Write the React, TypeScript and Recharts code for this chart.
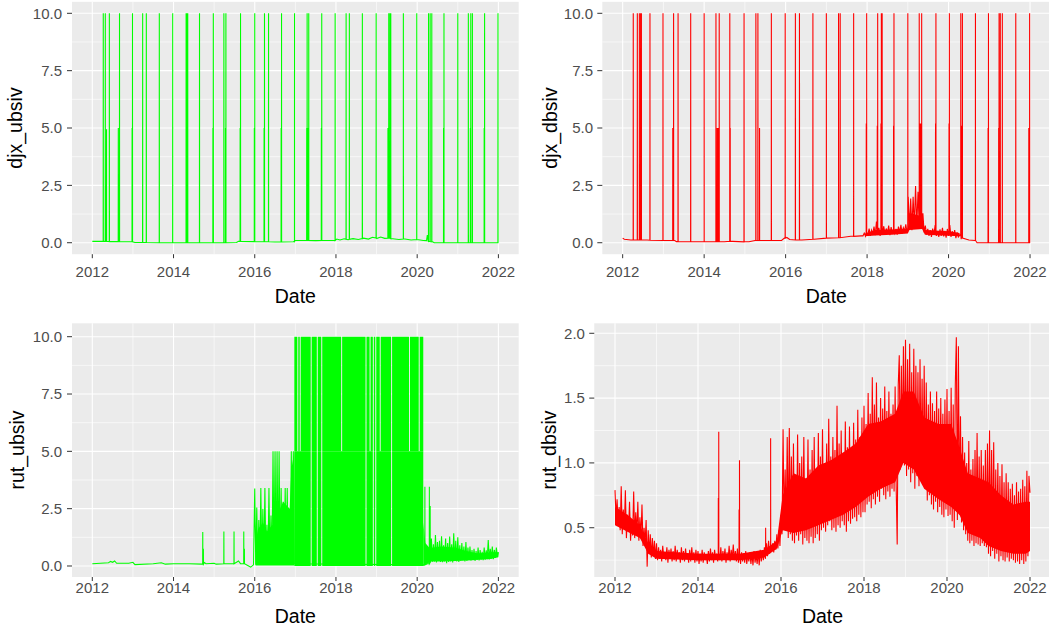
import {
  ComposedChart,
  Line,
  Area,
  XAxis,
  YAxis,
  CartesianGrid,
} from "recharts";

const FONT = "'Liberation Sans', Arial, Helvetica, sans-serif";
const GREEN = "#00FF00";
const RED = "#FF0000";

// axes
const yearTicks = [2012, 2014, 2016, 2018, 2020, 2022];
const yearMinor = [2013, 2015, 2017, 2019, 2021];
const bsivTicks = [0, 2.5, 5, 7.5, 10];
const bsivMinor = [1.25, 3.75, 6.25, 8.75];
const rutDbTicks = [0.5, 1, 1.5, 2];
const rutDbMinor = [0.25, 0.75, 1.25, 1.75];

// djx_ubsiv: baseline [date, value] and spikes [date, top, foot]
const djxUbsivBase = [
  [2012.0, 0.06], [2012.5, 0.05], [2012.95, 0.04], [2013.05, 0.01], [2014.0, 0.0],
  [2015.0, 0.0], [2015.55, 0.01], [2015.6, 0.06], [2016.0, 0.05], [2016.5, 0.03],
  [2016.95, 0.04], [2017.0, 0.1], [2017.5, 0.09], [2017.95, 0.1], [2018.02, 0.16],
  [2018.1, 0.12], [2018.2, 0.17], [2018.3, 0.13], [2018.42, 0.18], [2018.55, 0.14],
  [2018.68, 0.2], [2018.8, 0.16], [2018.9, 0.24], [2019.0, 0.18], [2019.1, 0.25],
  [2019.2, 0.19], [2019.4, 0.17], [2019.55, 0.14], [2019.7, 0.16], [2019.85, 0.12],
  [2020.0, 0.14], [2020.15, 0.1], [2020.23, 0.09], [2020.25, 0.33], [2020.27, 0.07],
  [2020.38, 0.04], [2020.42, 0.0], [2022.0, 0.0],
];
const djxUbsivSpikes = [
  [2012.27, 10, 0.06], [2012.32, 10, 0.06], [2012.35, 4.95, 0.06], [2012.42, 10, 0.05],
  [2012.64, 5, 0.05], [2012.67, 10, 0.05], [2012.98, 5, 0.04], [2012.99, 10, 0.04],
  [2013.24, 10, 0.01], [2013.33, 10, 0.01], [2013.65, 10, 0], [2013.98, 10, 0],
  [2014.31, 10, 0], [2014.33, 10, 0], [2014.35, 10, 0], [2014.64, 10, 0],
  [2014.97, 5, 0], [2014.98, 10, 0], [2015.24, 10, 0], [2015.28, 5, 0], [2015.29, 10, 0],
  [2015.64, 5, 0.06], [2015.65, 10, 0.06], [2015.99, 5, 0.05], [2016.0, 10, 0.05],
  [2016.23, 5, 0.04], [2016.24, 10, 0.04], [2016.34, 10, 0.04], [2016.65, 5, 0.03],
  [2016.66, 10, 0.03], [2016.98, 10, 0.06], [2017.28, 5, 0.1], [2017.29, 10, 0.1],
  [2017.31, 5, 0.1], [2017.33, 10, 0.1], [2017.64, 5, 0.1], [2017.65, 10, 0.1],
  [2017.98, 10, 0.1], [2018.25, 10, 0.15], [2018.33, 10, 0.15], [2018.65, 10, 0.18],
  [2018.99, 10, 0.2], [2019.28, 5, 0.2], [2019.3, 10, 0.2], [2019.33, 10, 0.2],
  [2019.35, 10, 0.18], [2019.66, 10, 0.16], [2019.99, 10, 0.14], [2020.28, 10, 0.06],
  [2020.32, 10, 0.05], [2020.36, 10, 0.04], [2020.65, 5, 0], [2020.66, 10, 0],
  [2021.0, 10, 0], [2021.26, 10, 0], [2021.31, 5, 0], [2021.32, 10, 0], [2021.36, 10, 0],
  [2021.65, 5, 0], [2021.66, 10, 0], [2021.99, 10, 0],
];

// djx_dbsiv
const djxDbsivBase = [
  [2012.0, 0.2], [2012.04, 0.15], [2012.2, 0.12], [2012.6, 0.12], [2013.0, 0.1],
  [2013.28, 0.1], [2013.32, 0.05], [2014.0, 0.05], [2014.5, 0.04], [2014.7, 0.06],
  [2015.1, 0.04], [2015.25, 0.1], [2015.9, 0.1], [2015.97, 0.2], [2016.03, 0.23],
  [2016.1, 0.14], [2016.4, 0.12], [2016.7, 0.15], [2017.0, 0.2], [2017.3, 0.22],
  [2017.6, 0.28], [2017.85, 0.3], [2020.28, 0.35], [2020.31, 0.15], [2020.5, 0.12],
  [2020.65, 0.1], [2020.7, 0.0], [2022.0, 0.0],
];
const djxDbsivNoiseStart = 2017.9;
const djxDbsivNoiseStep = 0.03;
const djxDbsivNoise = [
  0.3, 0.42, 0.28, 0.52, 0.35, 0.62, 0.3, 0.55, 0.38, 0.7,
  0.33, 0.92, 0.4, 0.65, 0.3, 0.6, 0.42, 0.72, 0.35, 0.62,
  0.4, 0.75, 0.33, 0.68, 0.42, 0.85, 0.4, 0.6, 0.35, 0.7,
  0.45, 0.78, 0.4, 0.65, 0.5, 0.8, 0.45, 2.0, 0.6, 1.93,
  0.55, 2.0, 0.7, 2.47, 0.7, 2.22, 1.0, 1.79, 0.8, 1.28,
  0.45, 0.75, 0.35, 0.6, 0.3, 0.55, 0.25, 0.62, 0.35, 0.77,
  0.3, 0.5, 0.25, 0.58, 0.3, 0.65, 0.28, 0.52, 0.22, 0.6,
  0.3, 0.77, 0.25, 0.5, 0.3, 0.55, 0.2, 0.45, 0.25,
];
const djxDbsivBand = [
  [2017.95, 0.28, 0.4], [2018.2, 0.32, 0.55], [2018.6, 0.35, 0.58], [2019.0, 0.4, 0.62],
  [2019.04, 0.55, 1.3], [2019.35, 0.6, 1.15], [2019.42, 0.35, 0.55], [2020.0, 0.3, 0.5],
  [2020.27, 0.28, 0.42],
];
const djxDbsivSpikes = [
  [2012.26, 10, 0.12], [2012.36, 10, 0.12], [2012.41, 10, 0.12], [2012.44, 10, 0.12],
  [2012.46, 10, 0.12], [2012.67, 10, 0.11], [2012.99, 10, 0.1], [2013.23, 5, 0.1],
  [2013.25, 10, 0.1], [2013.36, 10, 0.05], [2013.67, 10, 0.04], [2014.0, 10, 0.05],
  [2014.29, 10, 0.04], [2014.32, 5, 0.04], [2014.33, 5, 0.04], [2014.35, 5, 0.04],
  [2014.37, 10, 0.04], [2014.63, 10, 0.06], [2014.64, 5, 0.06], [2014.98, 10, 0.04],
  [2015.27, 10, 0.1], [2015.32, 10, 0.1], [2015.36, 5, 0.1], [2015.65, 10, 0.1],
  [2015.99, 10, 0.2], [2016.24, 10, 0.12], [2016.34, 10, 0.12], [2016.67, 10, 0.15],
  [2017.0, 10, 0.2], [2017.3, 10, 0.22], [2017.34, 10, 0.22], [2017.67, 10, 0.28],
  [2017.98, 5.2, 0.4], [2017.99, 10, 0.4], [2018.25, 5.1, 0.5], [2018.26, 10, 0.5],
  [2018.34, 5.2, 0.5], [2018.35, 10, 0.5], [2018.37, 10, 0.5], [2018.65, 5.1, 0.5],
  [2018.66, 10, 0.5], [2019.0, 10, 0.6], [2019.28, 10, 0.8], [2019.3, 5.2, 0.8],
  [2019.32, 5.2, 0.8], [2019.34, 10, 0.8], [2019.68, 5.2, 0.5], [2019.69, 10, 0.5],
  [2020.01, 5.2, 0.45], [2020.02, 10, 0.45], [2020.3, 10, 0.3], [2020.32, 5.1, 0.3],
  [2020.34, 10, 0.2], [2020.66, 10, 0.1], [2020.97, 5, 0], [2020.98, 10, 0],
  [2021.23, 5, 0], [2021.24, 10, 0], [2021.27, 10, 0], [2021.32, 10, 0],
  [2021.65, 10, 0], [2021.97, 5, 0], [2021.98, 5, 0], [2021.99, 10, 0],
];

// rut_ubsiv
const rutUbsivBase = [
  [2012.0, 0.1], [2012.2, 0.12], [2012.4, 0.14], [2012.45, 0.2], [2012.5, 0.16],
  [2012.55, 0.22], [2012.6, 0.12], [2012.9, 0.12], [2013.0, 0.16], [2013.05, 0.06],
  [2013.5, 0.1], [2013.7, 0.14], [2013.8, 0.08], [2014.0, 0.1], [2014.4, 0.1],
  [2014.7, 0.08], [2014.76, 0.15], [2014.8, 0.1], [2015.0, 0.12], [2015.05, 0.08],
  [2015.4, 0.1], [2015.6, 0.22], [2015.65, 0.1], [2015.85, 0.0], [2015.9, -0.05],
  [2015.97, 0.05], [2016.975, 0.1], [2020.16, 0.05], [2020.25, 0.1], [2020.33, 0.2],
];
const rutUbsivSpikes = [
  [2014.72, 1.48, 0.08], [2014.735, 0.75, 0.08], [2015.24, 1.5, 0.1], [2015.49, 1.5, 0.1],
  [2015.73, 1.5, 0.1], [2015.745, 0.75, 0.1], [2020.19, 3.46, 0.05], [2020.3, 3.46, 0.1],
  [2020.32, 2.62, 0.15],
];
const rutUbsivEarlyStart = 2016.0;
const rutUbsivEarlyStep = 0.025;
const rutUbsivEarly = [
  3.38, 0.05, 2.55, 0.1, 2.0, 0.15, 3.4, 0.1, 2.5, 0.1,
  3.4, 0.15, 1.8, 0.1, 3.4, 0.12, 2.2, 0.1, 5.0, 0.15,
  5.0, 0.1, 5.0, 0.12, 5.0, 0.1, 3.4, 0.1, 2.8, 0.12,
  3.4, 0.1, 3.4, 0.15, 2.0, 0.1, 5.0, 0.1, 5.0, 0.1,
];
const rutUbsivTailStart = 2020.35;
const rutUbsivTailStep = 0.025;
const rutUbsivTail = [
  1.2, 0.19, 0.95, 0.2, 1.35, 0.15, 1.05, 0.22, 1.1, 0.18,
  1.3, 0.16, 0.9, 0.2, 1.2, 0.12, 1.0, 0.18, 1.28, 0.2,
  0.95, 0.15, 1.43, 0.22, 1.1, 0.2, 1.25, 0.18, 0.9, 0.22,
  1.0, 0.24, 0.85, 0.2, 1.05, 0.22, 0.8, 0.25, 0.85, 0.23,
  0.7, 0.25, 0.75, 0.22, 0.65, 0.26, 0.8, 0.24, 0.7, 0.28,
  0.62, 0.25, 0.81, 0.27, 0.68, 0.3, 1.13, 0.28, 0.75, 0.32,
  0.85, 0.3, 0.7, 0.35, 0.8, 0.4, 0.6,
];
// dense bands [date, low, high]
const rutUbsivEarlyBand = [
  [2016.02, 0.02, 1.0], [2016.08, 0.02, 1.6], [2016.2, 0.02, 1.9], [2016.3, 0.02, 1.5],
  [2016.44, 0.02, 1.8], [2016.47, 0.02, 2.6], [2016.6, 0.02, 2.4], [2016.7, 0.02, 2.8],
  [2016.86, 0.02, 2.5], [2016.9, 0.02, 4.2], [2016.975, 0.02, 5.0],
];
const rutUbsivLateBand = [
  [2020.15, 0.0, 1.9], [2020.2, 0.05, 1.0], [2020.3, 0.15, 0.8], [2020.35, 0.2, 0.8],
  [2020.6, 0.2, 0.85], [2020.95, 0.22, 0.8], [2021.2, 0.24, 0.65], [2021.5, 0.27, 0.55],
  [2021.8, 0.3, 0.6], [2022.0, 0.38, 0.6],
];
const rutUbsivBlock = [2016.975, 2020.15];
const rutUbsivFullGaps = [2017.39, 2017.54, 2017.65, 2018.74, 2018.92, 2018.98, 2019.37];
const rutUbsivUpperGaps = [2017.06, 2017.12, 2018.14, 2018.84, 2019.09, 2019.81, 2020.05];

// rut_dbsiv, every 0.025 year
const rutDbsivStart = 2012.0;
const rutDbsivStep = 0.025;
const rutDbsiv = [
  // 2012
  0.79, 0.58, 0.72, 0.55, 0.66, 0.48, 0.82, 0.45, 0.64, 0.5,
  0.79, 0.42, 0.6, 0.47, 0.7, 0.4, 0.55, 0.44, 0.78, 0.42,
  0.62, 0.45, 0.7, 0.4, 0.58, 0.42, 0.68, 0.36, 0.5, 0.38,
  0.56, 0.2, 0.48, 0.3, 0.45, 0.27, 0.42, 0.28, 0.4, 0.26,
  // 2013
  0.38, 0.25, 0.35, 0.26, 0.33, 0.24, 0.36, 0.27, 0.31, 0.25,
  0.35, 0.23, 0.33, 0.26, 0.34, 0.24, 0.32, 0.25, 0.36, 0.24,
  0.33, 0.26, 0.31, 0.23, 0.35, 0.25, 0.32, 0.24, 0.34, 0.26,
  0.3, 0.23, 0.33, 0.24, 0.35, 0.25, 0.31, 0.23, 0.33, 0.24,
  // 2014
  0.32, 0.22, 0.3, 0.24, 0.33, 0.23, 0.31, 0.25, 0.29, 0.22,
  0.32, 0.24, 0.34, 0.25, 0.31, 0.23, 0.33, 0.26, 0.3, 0.24,
  0.33, 0.25, 0.35, 0.24, 0.32, 0.26, 0.34, 0.23, 0.31, 0.25,
  0.36, 0.24, 0.33, 0.26, 0.37, 0.25, 0.32, 0.24, 0.34, 0.23,
  // 2015
  0.33, 0.22, 0.31, 0.24, 0.3, 0.23, 0.32, 0.22, 0.29, 0.24,
  0.31, 0.22, 0.3, 0.21, 0.32, 0.23, 0.29, 0.22, 0.31, 0.21,
  0.33, 0.24, 0.32, 0.25, 0.35, 0.26, 0.38, 0.28, 0.4, 0.3,
  0.42, 0.32, 0.38, 0.31, 0.4, 0.33, 0.45, 0.34, 0.48, 0.36,
  // 2016
  0.6, 0.45, 1.26, 0.5, 0.95, 0.48, 1.2, 0.42, 1.27, 0.45,
  1.05, 0.4, 1.15, 0.38, 0.9, 0.44, 1.22, 0.4, 1.0, 0.45,
  1.05, 0.37, 1.2, 0.42, 0.88, 0.4, 1.18, 0.38, 0.95, 0.43,
  1.1, 0.38, 1.2, 0.42, 0.92, 0.45, 1.23, 0.4, 1.05, 0.48,
  // 2017
  1.26, 0.5, 1.0, 0.47, 1.15, 0.52, 1.34, 0.55, 1.05, 0.48,
  1.2, 0.5, 1.1, 0.47, 1.44, 0.52, 1.15, 0.5, 1.25, 0.55,
  1.08, 0.52, 1.32, 0.47, 1.12, 0.55, 1.28, 0.53, 1.05, 0.57,
  1.31, 0.58, 1.18, 0.55, 1.41, 0.6, 1.2, 0.58, 1.35, 0.62,
  // 2018
  1.44, 0.62, 1.3, 0.68, 1.54, 0.7, 1.38, 0.65, 1.66, 0.72,
  1.45, 0.68, 1.62, 0.74, 1.35, 0.7, 1.5, 0.8, 1.42, 0.75,
  1.59, 0.72, 1.4, 0.78, 1.55, 0.74, 1.38, 0.8, 1.45, 0.78,
  1.59, 0.82, 0.37, 1.6, 1.83, 0.95, 1.75, 1.1, 1.9, 0.98,
  // 2019
  1.95, 0.9, 1.8, 0.95, 1.92, 0.85, 1.7, 0.92, 1.88, 0.8,
  1.75, 0.9, 1.7, 0.82, 1.8, 0.92, 1.65, 0.85, 1.75, 0.8,
  1.62, 0.71, 1.45, 0.75, 1.55, 0.68, 1.46, 0.64, 1.4, 0.7,
  1.55, 0.62, 1.42, 0.66, 1.5, 0.6, 1.38, 0.58, 1.49, 0.64,
  // 2020
  1.57, 0.59, 1.4, 0.6, 1.58, 0.55, 1.45, 0.5, 1.6, 1.97,
  0.56, 1.9, 0.6, 1.36, 0.54, 1.2, 0.48, 1.08, 0.45, 1.0,
  0.4, 1.17, 0.38, 0.95, 0.4, 1.03, 0.36, 1.1, 0.38, 1.23,
  0.37, 1.05, 0.36, 1.1, 0.38, 0.98, 0.36, 1.1, 0.35, 1.15,
  // 2021
  0.3, 1.25, 0.28, 1.1, 0.32, 1.16, 0.26, 0.95, 0.3, 1.0,
  0.24, 0.9, 0.28, 0.99, 0.25, 0.85, 0.24, 0.92, 0.27, 0.85,
  0.24, 0.8, 0.26, 0.84, 0.25, 0.75, 0.23, 0.85, 0.24, 0.78,
  0.22, 0.8, 0.25, 0.87, 0.22, 0.82, 0.24, 0.94, 0.28, 0.9,
  // 2022
  0.77,
];
const rutDbsivSpikes = [
  [2014.49, 0.73, 0.3], [2014.5, 1.24, 0.3], [2014.99, 0.64, 0.3], [2015.0, 1.02, 0.3],
  [2015.63, 0.5, 0.3], [2015.75, 1.19, 0.33],
];
// solid core of the dense line [date, low, high]
const rutDbsivBand = [
  [2012.0, 0.52, 0.66], [2012.3, 0.47, 0.6], [2012.6, 0.42, 0.52], [2012.8, 0.3, 0.38],
  [2013.0, 0.26, 0.32], [2014.0, 0.25, 0.3], [2015.0, 0.25, 0.3], [2015.6, 0.27, 0.33],
  [2015.9, 0.34, 0.4], [2016.04, 0.48, 0.75], [2016.3, 0.46, 0.92], [2016.6, 0.48, 0.88],
  [2016.9, 0.52, 0.98], [2017.2, 0.56, 1.02], [2017.5, 0.6, 1.08], [2017.8, 0.66, 1.15],
  [2018.1, 0.74, 1.3], [2018.4, 0.8, 1.32], [2018.75, 0.85, 1.38], [2018.95, 1.0, 1.55],
  [2019.2, 0.95, 1.55], [2019.45, 0.8, 1.35], [2019.8, 0.72, 1.3], [2020.1, 0.66, 1.3],
  [2020.3, 0.6, 1.12], [2020.5, 0.46, 0.92], [2020.8, 0.42, 0.88], [2021.0, 0.36, 0.85],
  [2021.3, 0.32, 0.75], [2021.6, 0.3, 0.68], [2021.9, 0.3, 0.7], [2022.0, 0.32, 0.7],
];

type Pt = { x: number; y: number | null };

const pts = (rows: number[][]): Pt[] =>
  rows.map(([x, y]) => ({ x, y }));

const spikePts = (rows: number[][]): Pt[] =>
  rows.flatMap(([x, top, foot]) => [
    { x: x - 0.002, y: foot },
    { x, y: top },
    { x: x + 0.002, y: foot },
  ]);

const runPts = (start: number, step: number, vals: number[]): Pt[] =>
  vals.map((y, i) => ({ x: +(start + i * step).toFixed(4), y }));

const merge = (...parts: Pt[][]) =>
  parts.flat().sort((a, b) => a.x - b.x);

const bandPts = (rows: number[][]) =>
  rows.map(([x, lo, hi]) => ({ x, r: [lo, hi] }));

const blockPts = (span: number[], gaps: number[], lo: number, hi: number) => {
  const out: any[] = [{ x: span[0], r: [lo, hi] }];
  [...gaps].sort((a, b) => a - b).forEach((g) => {
    out.push({ x: g - 0.012, r: [lo, hi] }, { x: g, r: null }, { x: g + 0.012, r: [lo, hi] });
  });
  out.push({ x: span[1], r: [lo, hi] });
  return out;
};

const djxUbLine = merge(pts(djxUbsivBase), spikePts(djxUbsivSpikes));
const djxDbLine = merge(
  pts(djxDbsivBase),
  runPts(djxDbsivNoiseStart, djxDbsivNoiseStep, djxDbsivNoise),
  spikePts(djxDbsivSpikes)
);
const rutUbLine = merge(
  pts(rutUbsivBase),
  spikePts(rutUbsivSpikes),
  runPts(rutUbsivEarlyStart, rutUbsivEarlyStep, rutUbsivEarly),
  runPts(rutUbsivTailStart, rutUbsivTailStep, rutUbsivTail)
);
const rutUbLower = blockPts(rutUbsivBlock, rutUbsivFullGaps, 0.0, 5.0);
const rutUbUpper = blockPts(rutUbsivBlock, [...rutUbsivFullGaps, ...rutUbsivUpperGaps], 5.0, 10.0);
const rutDbLine = merge(
  runPts(rutDbsivStart, rutDbsivStep, rutDbsiv),
  spikePts(rutDbsivSpikes)
);

const tickText = { fill: "#4D4D4D", fontSize: 15, fontFamily: FONT };

function Panel({
  left, top, width, right, plotTop, xHeight, yWidth, yDomain, yTicks, yMinor,
  xTickMargin, yTickMargin, title, titleX, dateTop, children,
}: any) {
  const plotLeft = yWidth;
  const plotRight = width - right;
  const plotBottom = 316 - xHeight;
  return (
    <div style={{ position: "absolute", left, top, width, height: 316 }}>
      <ComposedChart
        width={width}
        height={316}
        margin={{ top: plotTop, right, bottom: 0, left: 0 }}
      >
        <CartesianGrid
          fill="#EBEBEB"
          fillOpacity={1}
          stroke="#FFFFFF"
          strokeWidth={0.6}
          verticalValues={yearMinor}
          horizontalValues={yMinor}
        />
        <CartesianGrid
          stroke="#FFFFFF"
          strokeWidth={1.1}
          verticalValues={yearTicks}
          horizontalValues={yTicks}
        />
        <XAxis
          type="number"
          dataKey="x"
          domain={[2011.5, 2022.5]}
          ticks={yearTicks}
          interval={0}
          allowDataOverflow
          height={xHeight}
          axisLine={false}
          tickSize={4}
          tickMargin={xTickMargin}
          tickLine={{ stroke: "#333333" }}
          tick={tickText}
        />
        <YAxis
          type="number"
          domain={yDomain}
          ticks={yTicks}
          interval={0}
          allowDataOverflow
          width={yWidth}
          axisLine={false}
          tickSize={5}
          tickMargin={yTickMargin}
          tickLine={{ stroke: "#333333" }}
          tick={tickText}
          tickFormatter={(v: number) => v.toFixed(1)}
        />
        {children}
      </ComposedChart>
      <div
        style={{
          position: "absolute",
          left: (plotLeft + plotRight) / 2 - 60,
          width: 120,
          top: dateTop,
          textAlign: "center",
          fontFamily: FONT,
          fontSize: 19.5,
          lineHeight: 1,
          color: "#000",
        }}
      >
        Date
      </div>
      <div
        style={{
          position: "absolute",
          left: titleX,
          top: (plotTop + plotBottom) / 2,
          transform: "translate(-50%, -50%) rotate(-90deg)",
          whiteSpace: "nowrap",
          fontFamily: FONT,
          fontSize: 19.5,
          lineHeight: 1,
          color: "#000",
        }}
      >
        {title}
      </div>
    </div>
  );
}

const line = (data: Pt[], color: string) => (
  <Line
    data={data}
    dataKey="y"
    type="linear"
    stroke={color}
    strokeWidth={1.1}
    dot={false}
    activeDot={false}
    isAnimationActive={false}
  />
);

const band = (data: any[], color: string, key: string) => (
  <Area
    key={key}
    data={data}
    dataKey="r"
    type="linear"
    stroke="none"
    fill={color}
    fillOpacity={1}
    activeDot={false}
    isAnimationActive={false}
  />
);

export default function App() {
  return (
    <div
      style={{
        position: "absolute",
        left: 0,
        top: 0,
        width: 1049,
        height: 632,
        overflow: "hidden",
        background: "#FFFFFF",
      }}
    >
      <Panel
        left={0} top={0} width={525} right={6.3} plotTop={1.83} xHeight={61.8}
        yWidth={72} yDomain={[-0.5, 10.5]} yTicks={bsivTicks} yMinor={bsivMinor}
        xTickMargin={8.5} yTickMargin={5} title="djx_ubsiv" titleX={15.5} dateTop={286.5}
      >
        {line(djxUbLine, GREEN)}
      </Panel>

      <Panel
        left={525} top={0} width={526} right={0.6} plotTop={1.83} xHeight={61.8}
        yWidth={77.3} yDomain={[-0.5, 10.5]} yTicks={bsivTicks} yMinor={bsivMinor}
        xTickMargin={8.5} yTickMargin={4.3} title="djx_dbsiv" titleX={25.5} dateTop={286.5}
      >
        {band(bandPts(djxDbsivBand), RED, "core")}
        {line(djxDbLine, RED)}
      </Panel>

      <Panel
        left={0} top={316} width={525} right={6.3} plotTop={7.3} xHeight={55}
        yWidth={72} yDomain={[-0.48, 10.584]} yTicks={bsivTicks} yMinor={bsivMinor}
        xTickMargin={1.7} yTickMargin={5} title="rut_ubsiv" titleX={17.5} dateTop={290.5}
      >
        {band(bandPts(rutUbsivEarlyBand), GREEN, "early")}
        {band(rutUbLower, GREEN, "lower")}
        {band(rutUbUpper, GREEN, "upper")}
        {band(bandPts(rutUbsivLateBand), GREEN, "late")}
        {line(rutUbLine, GREEN)}
      </Panel>

      <Panel
        left={525} top={316} width={526} right={0.25} plotTop={7.3} xHeight={55}
        yWidth={69.25} yDomain={[0.12, 2.077]} yTicks={rutDbTicks} yMinor={rutDbMinor}
        xTickMargin={1.7} yTickMargin={4.3} title="rut_dbsiv" titleX={25} dateTop={290.5}
      >
        {band(bandPts(rutDbsivBand), RED, "core")}
        {line(rutDbLine, RED)}
      </Panel>
    </div>
  );
}
